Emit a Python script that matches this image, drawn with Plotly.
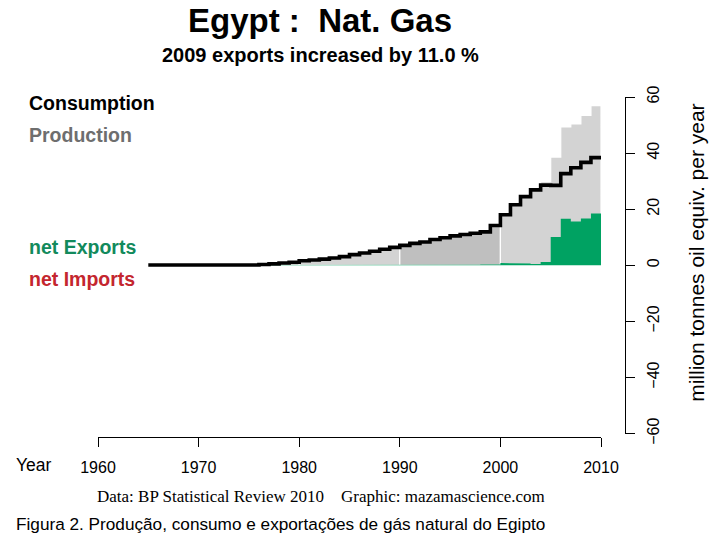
import plotly.graph_objects as go

years = list(range(1965, 2010))
consumption = [0.1, 0.1, 0.1, 0.1, 0.1, 0.1, 0.1, 0.1, 0.1, 0.1, 0.1,
               0.3, 0.5, 0.8, 1.1, 1.6, 1.9, 2.2, 2.6, 3.1, 3.8, 4.4, 5.0, 5.7, 6.4,
               7.1, 7.8, 8.3, 9.2, 9.8, 10.5, 11.0, 11.4, 11.9, 14.2,
               18.0, 21.6, 24.5, 26.9, 28.6, 28.5, 32.7, 34.8, 36.7, 38.4]
production = [0.1, 0.1, 0.1, 0.1, 0.1, 0.1, 0.1, 0.1, 0.1, 0.1, 0.1,
              0.3, 0.5, 0.8, 1.1, 1.6, 1.9, 2.2, 2.6, 3.1, 3.8, 4.4, 5.0, 5.7, 6.4,
              7.1, 7.8, 8.3, 9.2, 9.8, 10.6, 11.2, 11.6, 12.2, 14.5,
              18.8, 22.3, 25.1, 27.4, 29.8, 38.6, 49.3, 50.4, 53.4, 56.9]
x_ticks = [1960, 1970, 1980, 1990, 2000, 2010]
y_ticks = [-60, -40, -20, 0, 20, 40, 60]

LIGHT = "#d3d3d3"
DARK = "#bfbfbf"
GREEN = "#00a262"

fig = go.Figure()

def step_polygon(yrs, vals):
    xs, ys = [yrs[0]], [0]
    for yr, v in zip(yrs, vals):
        xs += [yr, yr + 1]
        ys += [v, v]
    xs += [yrs[-1] + 1, yrs[0]]
    ys += [0, 0]
    return xs, ys

# production, shaded by decade
for i, d in enumerate(range(1960, 2010, 10)):
    sel = [(y, p) for y, p in zip(years, production) if d <= y < d + 10]
    if not sel:
        continue
    xs, ys = step_polygon([s[0] for s in sel], [s[1] for s in sel])
    fig.add_trace(go.Scatter(x=xs, y=ys, fill="toself", mode="lines",
                             fillcolor=LIGHT if i % 2 == 0 else DARK,
                             line=dict(color="white", width=1.2),
                             hoverinfo="skip", showlegend=False))

# net exports
net = [p - c for p, c in zip(production, consumption)]
exp_vals = [max(n, 0) for n in net]
xs, ys = step_polygon(years, exp_vals)
fig.add_trace(go.Scatter(x=xs, y=ys, fill="toself", mode="lines",
                         fillcolor=GREEN, line=dict(color=GREEN, width=0),
                         hoverinfo="skip", showlegend=False))

# consumption
fig.add_trace(go.Scatter(x=years + [years[-1] + 1], y=consumption + [consumption[-1]],
                         mode="lines", line=dict(color="black", width=3.6, shape="hv"),
                         hoverinfo="skip", showlegend=False))

W, H = 716, 544
L, R = 98, 625
T, B = 97, 437.4
dom_x = (601 - 98) / (R - L)

fig.update_layout(
    width=W, height=H,
    margin=dict(l=L, r=W - R, t=T, b=H - B, pad=0),
    paper_bgcolor="white", plot_bgcolor="white",
    font=dict(family="Liberation Sans, Arial, sans-serif", color="black"),
    xaxis=dict(domain=[0, dom_x], range=[1960, 2010], tickvals=x_ticks,
               ticks="outside", ticklen=9, tickcolor="black", tickwidth=1,
               showline=True, linecolor="black", linewidth=1,
               showgrid=False, zeroline=False, anchor="free", position=0,
               tickfont=dict(size=16, color="black"), ticklabelstandoff=7),
    yaxis=dict(domain=[0.01, 1], range=[-60, 60], tickvals=y_ticks,
               side="right", anchor="free", position=1,
               ticks="outside", ticklen=9, tickcolor="black", tickwidth=1,
               showline=True, linecolor="black", linewidth=1,
               showgrid=False, zeroline=False, tickangle=-90,
               tickfont=dict(size=16, color="black"), ticklabelstandoff=5),
)

def ann(text, x, y, size, color="black", bold=False, family=None, xanchor="left", angle=0):
    fig.add_annotation(text=f"<b>{text}</b>" if bold else text,
                       x=x, y=y, xref="paper", yref="paper",
                       xanchor=xanchor, yanchor="middle", showarrow=False,
                       textangle=angle,
                       font=dict(size=size, color=color,
                                 family=family or "Liberation Sans, Arial, sans-serif"))

def px(xp):
    return (xp - L) / (R - L)

def py(yp):
    return (B - yp) / (B - T)

ann("Egypt :\u00a0 Nat. Gas", px(320), py(20), 33, bold=True, xanchor="center")
ann("2009 exports increased by 11.0 %", px(320), py(55), 20, bold=True, xanchor="center")
ann("Consumption", px(27), py(103), 19.5, bold=True)
ann("Production", px(27), py(135), 19.5, color="#6e6e6e", bold=True)
ann("net Exports", px(27), py(247), 19.5, color="#128a5c", bold=True)
ann("net Imports", px(27), py(279), 19.5, color="#c4262e", bold=True)
ann("Year", px(14), py(465), 17.5)
ann("million tonnes oil equiv. per year", px(697), py(253), 21, xanchor="center", angle=-90)
ann("Data: BP Statistical Review 2010\u00a0\u00a0\u00a0\u00a0Graphic: mazamascience.com",
    px(321), py(497), 17, family="Liberation Serif, Times New Roman, serif", xanchor="center")
ann("Figura 2. Produção, consumo e exportações de gás natural do Egipto", px(14), py(525), 17.2)

fig.write_html("out.html")
